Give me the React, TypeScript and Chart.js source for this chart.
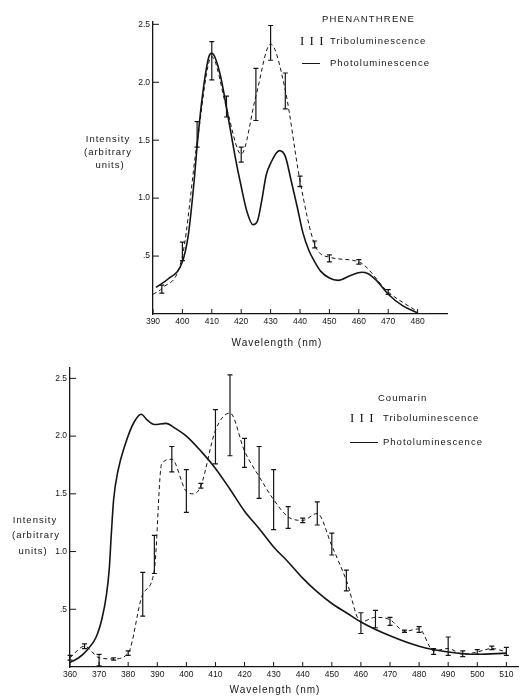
import React, { useEffect, useRef } from 'react';
import Chart from 'chart.js/auto';

const INK = '#151515';
const FONT = '"Liberation Sans", Arial, sans-serif';

// ---- Phenanthrene (top) ----
const phenPhotoX = [391, 395, 400, 402, 404, 405, 407, 409, 410, 411, 413, 415, 418, 420, 422, 424, 425.5, 427, 428.5, 430, 433, 435, 437, 439, 441, 443, 445, 447, 450, 453, 457, 461, 463, 466, 470, 475, 480];
const phenPhotoY = [0.23, 0.3, 0.45, 0.68, 1.15, 1.45, 1.92, 2.22, 2.25, 2.22, 2.05, 1.78, 1.35, 1.1, 0.88, 0.77, 0.8, 0.98, 1.2, 1.3, 1.41, 1.36, 1.15, 0.93, 0.7, 0.55, 0.45, 0.37, 0.31, 0.29, 0.33, 0.36, 0.35, 0.29, 0.17, 0.07, 0.01];

const phenTriboX = [390, 393, 400, 405, 410, 415, 420, 425, 430, 435, 440, 445, 450, 460, 470, 480];
const phenTriboY = [0.17, 0.22, 0.5, 1.48, 2.22, 1.78, 1.38, 1.88, 2.33, 1.93, 1.15, 0.6, 0.49, 0.45, 0.19, 0.02];
const phenTriboLow = [null, 0.18, 0.46, 1.44, 2.02, 1.7, 1.31, 1.67, 2.19, 1.77, 1.1, 0.57, 0.45, 0.43, 0.17, null];
const phenTriboHigh = [null, 0.25, 0.62, 1.66, 2.35, 1.88, 1.44, 2.12, 2.49, 2.08, 1.19, 0.63, 0.51, 0.47, 0.21, null];

const phenXTicks = [390, 400, 410, 420, 430, 440, 450, 460, 470, 480];

// ---- Coumarin (bottom) ----
const coumPhotoX = [360, 363, 366, 369, 371, 372.5, 373.5, 374.2, 375, 376.5, 379, 382, 384.5, 386.5, 389, 393, 396, 400, 405, 410, 415, 420, 425, 430, 435, 440, 445, 450, 455, 460, 470, 480, 490, 500, 510];
const coumPhotoY = [0.04, 0.08, 0.15, 0.26, 0.42, 0.62, 0.85, 1.15, 1.45, 1.7, 1.93, 2.12, 2.19, 2.14, 2.1, 2.11, 2.07, 2.0, 1.87, 1.72, 1.54, 1.35, 1.2, 1.04, 0.91, 0.77, 0.65, 0.55, 0.47, 0.39, 0.27, 0.18, 0.13, 0.11, 0.12];

const coumTriboX = [360, 365, 370, 375, 380, 385, 389, 391.5, 395, 400, 402.5, 405, 410, 415, 420, 425, 430, 435, 440, 445, 450, 455, 460, 465, 470, 475, 480, 485, 490, 495, 500, 505, 510];
const coumTriboY = [0.08, 0.18, 0.08, 0.07, 0.12, 0.63, 0.84, 1.76, 1.8, 1.52, 1.5, 1.57, 2.05, 2.2, 1.87, 1.65, 1.45, 1.3, 1.27, 1.33, 1.05, 0.75, 0.39, 0.43, 0.41, 0.31, 0.33, 0.14, 0.16, 0.11, 0.13, 0.16, 0.13];
const coumTriboLow = [0.06, 0.16, 0.01, 0.06, 0.1, 0.44, 0.81, null, 1.69, 1.34, null, 1.55, 1.76, 1.83, 1.73, 1.46, 1.19, 1.2, 1.25, 1.23, 0.97, 0.66, 0.29, 0.34, 0.36, 0.3, 0.3, 0.11, 0.1, 0.09, 0.11, 0.15, 0.1];
const coumTriboHigh = [0.1, 0.2, 0.11, 0.08, 0.14, 0.82, 1.14, null, 1.91, 1.71, null, 1.59, 2.23, 2.53, 1.98, 1.91, 1.71, 1.39, 1.29, 1.43, 1.16, 0.84, 0.47, 0.49, 0.43, 0.32, 0.35, 0.16, 0.26, 0.14, 0.15, 0.18, 0.17];

const coumXTicks = [360, 370, 380, 390, 400, 410, 420, 430, 440, 450, 460, 470, 480, 490, 500, 510];

const yTicks = [0.5, 1.0, 1.5, 2.0, 2.5];
const yTickLabels = ['.5', '1.0', '1.5', '2.0', '2.5'];

const errorBarsPlugin = {
    id: 'errorBars',
    afterDatasetsDraw(chart: any) {
        const { ctx, scales: { x, y } } = chart;
        chart.data.datasets.forEach((ds: any) => {
            if (!ds.errLow) return;
            ctx.save();
            ctx.strokeStyle = INK;
            ctx.lineWidth = 1.2;
            ds.data.forEach((p: any, i: number) => {
                const lo = ds.errLow[i];
                const hi = ds.errHigh[i];
                if (lo == null || hi == null) return;
                const px = x.getPixelForValue(p.x);
                const y1 = y.getPixelForValue(lo);
                const y2 = y.getPixelForValue(hi);
                ctx.beginPath();
                ctx.moveTo(px, y1);
                ctx.lineTo(px, y2);
                ctx.moveTo(px - 2.5, y1);
                ctx.lineTo(px + 2.5, y1);
                ctx.moveTo(px - 2.5, y2);
                ctx.lineTo(px + 2.5, y2);
                ctx.stroke();
            });
            ctx.restore();
        });
    },
};

// tick marks drawn on the inside of both axes
const innerTicksPlugin = {
    id: 'innerTicks',
    afterDraw(chart: any) {
        const { ctx, chartArea, scales: { x, y } } = chart;
        ctx.save();
        ctx.strokeStyle = INK;
        ctx.lineWidth = 1;
        ctx.beginPath();
        x.ticks.forEach((t: any) => {
            const px = x.getPixelForValue(t.value);
            ctx.moveTo(px, chartArea.bottom);
            ctx.lineTo(px, chartArea.bottom - 5);
        });
        y.ticks.forEach((t: any) => {
            const py = y.getPixelForValue(t.value);
            ctx.moveTo(chartArea.left, py);
            ctx.lineTo(chartArea.left + 6, py);
        });
        ctx.stroke();
        ctx.restore();
    },
};

interface SpectrumProps {
    top: number;
    height: number;
    photoX: number[];
    photoY: number[];
    triboX: number[];
    triboY: number[];
    triboLow: (number | null)[];
    triboHigh: (number | null)[];
    xMin: number;
    xMax: number;
    yMax: number;
    xTicks: number[];
    padding: { left: number; right: number; top: number; bottom: number };
}

const Spectrum: React.FC<SpectrumProps> = (p) => {
    const canvasRef = useRef<HTMLCanvasElement>(null);

    useEffect(() => {
        if (!canvasRef.current) return;
        const chart = new Chart(canvasRef.current, {
            type: 'scatter',
            data: {
                datasets: [
                    {
                        label: 'Photoluminescence',
                        data: p.photoX.map((x, i) => ({ x, y: p.photoY[i] })),
                        showLine: true,
                        borderColor: INK,
                        borderWidth: 1.6,
                        pointRadius: 0,
                        cubicInterpolationMode: 'monotone',
                    },
                    {
                        label: 'Triboluminescence',
                        data: p.triboX.map((x, i) => ({ x, y: p.triboY[i] })),
                        showLine: true,
                        borderColor: INK,
                        borderWidth: 1,
                        borderDash: [4, 3],
                        pointRadius: 0,
                        cubicInterpolationMode: 'monotone',
                        errLow: p.triboLow,
                        errHigh: p.triboHigh,
                    } as any,
                ],
            },
            options: {
                responsive: false,
                animation: false,
                layout: { padding: p.padding },
                plugins: { legend: { display: false }, tooltip: { enabled: false } },
                scales: {
                    x: {
                        type: 'linear',
                        min: p.xMin,
                        max: p.xMax,
                        afterBuildTicks: (s: any) => { s.ticks = p.xTicks.map((value) => ({ value })); },
                        afterFit: (s: any) => { s.height = 16; },
                        grid: { display: false, drawTicks: false },
                        border: { display: true, color: INK, width: 1.3 },
                        ticks: {
                            padding: 3,
                            color: INK,
                            font: { family: FONT, size: 8.5 },
                            maxRotation: 0,
                            autoSkip: false,
                            callback: (v: any) => String(v),
                        },
                    },
                    y: {
                        type: 'linear',
                        min: 0,
                        max: p.yMax,
                        afterBuildTicks: (s: any) => { s.ticks = yTicks.map((value) => ({ value })); },
                        afterFit: (s: any) => { s.width = 30; },
                        grid: { display: false, drawTicks: false },
                        border: { display: true, color: INK, width: 1.3 },
                        ticks: {
                            padding: 3,
                            color: INK,
                            font: { family: FONT, size: 8.5 },
                            autoSkip: false,
                            callback: (v: any) => yTickLabels[yTicks.indexOf(Number(v))] ?? '',
                        },
                    },
                },
            },
            plugins: [errorBarsPlugin, innerTicksPlugin],
        });
        return () => chart.destroy();
    }, []);

    return (
        <canvas
            ref={canvasRef}
            width={520}
            height={p.height}
            style={{ position: 'absolute', left: 0, top: p.top, width: 520, height: p.height }}
        />
    );
};

const txt: React.CSSProperties = {
    position: 'absolute',
    fontFamily: FONT,
    fontSize: 9.5,
    letterSpacing: 1,
    color: INK,
    whiteSpace: 'nowrap',
    lineHeight: '12px',
};

const Label: React.FC<{ x: number; y: number; w?: number; size?: number; ls?: number; children: React.ReactNode }> = ({ x, y, w, size, ls, children }) => (
    <div style={{ ...txt, left: w ? x - w / 2 : x, top: y - 6, width: w, textAlign: w ? 'center' : 'left', fontSize: size ?? 9.5, letterSpacing: ls ?? 1 }}>
        {children}
    </div>
);

const Bars: React.FC<{ x: number; y: number }> = ({ x, y }) => (
    <div style={{ ...txt, left: x, top: y - 8, fontFamily: '"Liberation Serif", serif', fontSize: 13, lineHeight: '16px', letterSpacing: 1 }}>I I I</div>
);

const Rule: React.FC<{ x: number; y: number; w: number }> = ({ x, y, w }) => (
    <div style={{ position: 'absolute', left: x, top: y, width: w, height: 0, borderTop: `1.2px solid ${INK}` }} />
);

export default function App() {
    return (
        <div style={{ position: 'absolute', left: 0, top: 0, width: 520, height: 698, background: '#fff', overflow: 'hidden' }}>
            <Spectrum
                top={0}
                height={332}
                photoX={phenPhotoX}
                photoY={phenPhotoY}
                triboX={phenTriboX}
                triboY={phenTriboY}
                triboLow={phenTriboLow}
                triboHigh={phenTriboHigh}
                xMin={390}
                xMax={490}
                yMax={2.52}
                xTicks={phenXTicks}
                padding={{ left: 123, right: 73, top: 22, bottom: 2 }}
            />
            <Spectrum
                top={340}
                height={358}
                photoX={coumPhotoX}
                photoY={coumPhotoY}
                triboX={coumTriboX}
                triboY={coumTriboY}
                triboLow={coumTriboLow}
                triboHigh={coumTriboHigh}
                xMin={360}
                xMax={514}
                yMax={2.59}
                xTicks={coumXTicks}
                padding={{ left: 40, right: 2, top: 28, bottom: 15 }}
            />

            {/* top chart texts */}
            <Label x={322} y={19} ls={1.2}>PHENANTHRENE</Label>
            <Bars x={300} y={41} />
            <Label x={330} y={41}>Triboluminescence</Label>
            <Rule x={302} y={63} w={18} />
            <Label x={330} y={63}>Photoluminescence</Label>
            <Label x={108} y={139} w={60}>Intensity</Label>
            <Label x={108} y={152} w={60}>(arbitrary</Label>
            <Label x={110} y={165} w={60}>units)</Label>
            <Label x={277} y={343} w={120} size={10}>Wavelength (nm)</Label>

            {/* bottom chart texts */}
            <Label x={378} y={398}>Coumarin</Label>
            <Bars x={350} y={418} />
            <Label x={383} y={418}>Triboluminescence</Label>
            <Rule x={350} y={442} w={28} />
            <Label x={383} y={442}>Photoluminescence</Label>
            <Label x={35} y={520} w={60}>Intensity</Label>
            <Label x={36} y={535} w={60}>(arbitrary</Label>
            <Label x={33} y={551} w={60}>units)</Label>
            <Label x={275} y={690} w={120} size={10}>Wavelength (nm)</Label>
        </div>
    );
}
